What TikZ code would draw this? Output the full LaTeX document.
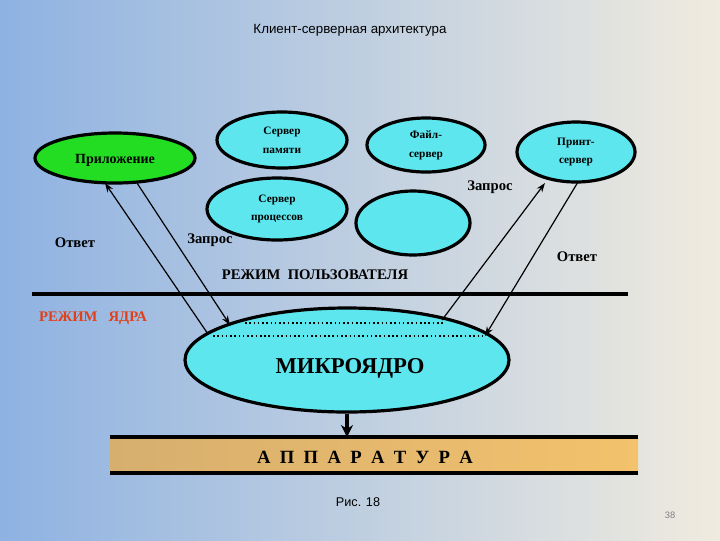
\documentclass[tikz,border=0pt]{standalone}
\usetikzlibrary{shapes.geometric,arrows.meta}
\usepackage{fontspec}
\setmainfont{Liberation Serif}
\newfontfamily\sansf{Liberation Sans}
\definecolor{cy}{HTML}{5EE6EE}
\definecolor{gr}{HTML}{22DD22}
\definecolor{bgl}{HTML}{8EB2E2}
\definecolor{bgr}{HTML}{F0EBDF}
\definecolor{barl}{HTML}{D6AE6E}
\definecolor{barr}{HTML}{F3C26C}
\definecolor{kred}{HTML}{E0401A}
\begin{document}
\begin{tikzpicture}[x=0.75pt,y=-0.75pt,
  oval/.style={ellipse,draw=black,line width=2.4pt,fill=cy,inner sep=0pt},
  stxt/.style={font=\bfseries\fontsize{8.5}{14}\selectfont,align=center},
  lbl/.style={font=\bfseries\fontsize{11}{13}\selectfont},
  con/.style={line width=0.9pt},
  tip/.style={-{Stealth[length=7pt,width=5pt]}}]
\useasboundingbox (0,0) rectangle (720,540);
\shade[left color=bgl, right color=bgr] (0,0) rectangle (720,540);
\node[font=\sansf\fontsize{10}{12}\selectfont] (title) at (350,30) {Клиент-серверная архитектура};
% ellipses
\node[ellipse,draw=black,line width=2.4pt,fill=gr,minimum width=120pt,minimum height=37.5pt] (app) at (115,158) {};
\node[font=\bfseries\fontsize{10.5}{12}\selectfont] at (115,160) {Приложение};
\node[oval,minimum width=97.5pt,minimum height=42pt,stxt] (mem) at (282,140) {Сервер\\памяти};
\node[oval,minimum width=88.5pt,minimum height=40.5pt,stxt] (file) at (426,145) {Файл-\\сервер};
\node[oval,minimum width=88.5pt,minimum height=45pt,stxt] (print) at (576,152) {Принт-\\сервер};
\node[oval,minimum width=105pt,minimum height=46.5pt,stxt] (proc) at (277,209) {Сервер\\процессов};
\node[oval,minimum width=85.5pt,minimum height=48pt] (blank) at (413,223) {};
\node[oval,minimum width=243pt,minimum height=78pt] (mk) at (347,360) {};
\node[font=\bfseries\fontsize{17}{20}\selectfont] (mktext) at (350,368) {МИКРОЯДРО};
\draw[dotted,line width=1.2pt] (245,323) -- (443,323);
\draw[dotted,line width=1.2pt] (213,336) -- (483,336);
% labels
\node[lbl] (zr) at (490,187) {Запрос};
\node[lbl] (or) at (577,257) {Ответ};
\node[lbl] (ol) at (75,243) {Ответ};
\node[lbl] (zl) at (210,240) {Запрос};
\node[lbl] (um) at (315,275) {РЕЖИМ~~ПОЛЬЗОВАТЕЛЯ};
\node[lbl,text=kred] (km) at (93,318) {РЕЖИМ~~~ЯДРА};
\coordinate (L1) at (32,294); \coordinate (L2) at (628,294);
\draw[line width=3pt] (L1) -- (L2);
% connectors
\coordinate (a1) at (105,183); \coordinate (k1) at (208,334);
\coordinate (a2) at (137,183); \coordinate (k2) at (230,325);
\coordinate (p1) at (545,183); \coordinate (k3) at (442,320);
\coordinate (p2) at (578,182); \coordinate (k4) at (485,336);
\draw[con,tip] (k1) -- (a1);
\draw[con,tip] (a2) -- (k2);
\draw[con,tip] (k3) -- (p1);
\draw[con,tip] (p2) -- (k4);
% hardware bar
\shade[left color=barl, right color=barr] (110,437) rectangle (638,473);
\draw[line width=2.5pt] (110,437) -- (638,437);
\draw[line width=2.5pt] (110,473) -- (638,473);
\node[font=\bfseries\fontsize{14}{16}\selectfont] (hw) at (365,457) {А~~П~~П~~А~~Р~~А~~Т~~У~~Р~~А};
\coordinate (bt) at (347,437);
\draw[line width=2.5pt,-{Stealth[length=9pt,width=9pt]}] (mk.south) -- (bt);
\node[font=\sansf\fontsize{9.5}{11}\selectfont] (fig) at (358,502) {Рис. 18};
\node[font=\sansf\fontsize{7}{8}\selectfont,text=gray] (pg) at (670,515) {38};
\end{tikzpicture}
\end{document}
